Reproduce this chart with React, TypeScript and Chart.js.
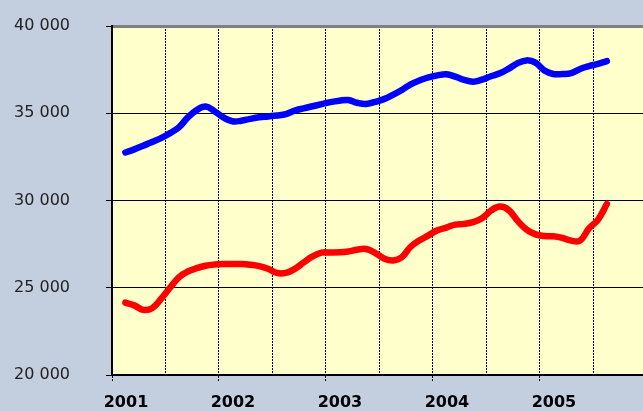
import React, { useEffect, useRef } from "react";
import { Chart, registerables } from "chart.js";

Chart.register(...registerables);

const MONTHS: string[] = [
  "2001-02", "2001-03", "2001-04", "2001-05", "2001-06", "2001-07", "2001-08", "2001-09", "2001-10", "2001-11", "2001-12",
  "2002-01", "2002-02", "2002-03", "2002-04", "2002-05", "2002-06", "2002-07", "2002-08", "2002-09", "2002-10", "2002-11", "2002-12",
  "2003-01", "2003-02", "2003-03", "2003-04", "2003-05", "2003-06", "2003-07", "2003-08", "2003-09", "2003-10", "2003-11", "2003-12",
  "2004-01", "2004-02", "2004-03", "2004-04", "2004-05", "2004-06", "2004-07", "2004-08", "2004-09", "2004-10", "2004-11", "2004-12",
  "2005-01", "2005-02", "2005-03", "2005-04", "2005-05", "2005-06", "2005-07", "2005-08",
];

const BLUE_VALUES: number[] = [
  32750, 32930, 33140, 33350, 33570, 33860, 34190, 34760, 35180, 35380, 35120,
  34760, 34540, 34570, 34680, 34770, 34820, 34870, 34950, 35150, 35280, 35400, 35520,
  35640, 35720, 35760, 35600, 35530, 35650, 35810, 36050, 36330, 36660, 36880, 37060,
  37170, 37230, 37100, 36910, 36810, 36930, 37120, 37290, 37560, 37870, 38030, 37900,
  37450, 37250, 37250, 37300, 37540, 37700, 37830, 37990,
];

const RED_VALUES: number[] = [
  24150, 23990, 23730, 23830, 24360, 25000, 25600, 25930, 26120, 26260, 26330,
  26360, 26360, 26360, 26320, 26240, 26090, 25850, 25850, 26080, 26450, 26800, 27010,
  27020, 27030, 27080, 27180, 27220, 27000, 26680, 26560, 26750, 27350, 27720, 28000,
  28290, 28450, 28620, 28660, 28760, 28980, 29420, 29650, 29450, 28830, 28330, 28060,
  27960, 27950, 27860, 27700, 27700, 28400, 28890, 29800,
];

const YEAR_TICKS: number[] = [2001, 2002, 2003, 2004, 2005];
const Y_MIN = 20000;
const Y_MAX = 40000;
const Y_STEP = 5000;
const X_MIN = 2001;
const X_MAX = 2005.963;

function monthToX(m: string): number {
  const [y, mo] = m.split("-").map(Number);
  return y + (mo - 1 + 0.5) / 12;
}

const bgPlugin = {
  id: "bgPlugin",
  beforeDraw(chart: any) {
    const { ctx, chartArea } = chart;
    ctx.save();
    ctx.fillStyle = "#C3CEDF";
    ctx.fillRect(0, 0, chart.width, chart.height);
    ctx.fillStyle = "#FFFFCC";
    ctx.fillRect(chartArea.left, chartArea.top, chartArea.right - chartArea.left, chartArea.bottom - chartArea.top);
    ctx.restore();
  },
};

export default function App() {
  const ref = useRef<HTMLCanvasElement | null>(null);
  useEffect(() => {
    if (!ref.current) return;
    const fmt = (v: number) => String(v).replace(/\B(?=(\d{3})+(?!\d))/g, " ");
    const chart = new Chart(ref.current, {
      type: "line",
      data: {
        datasets: [
          {
            label: "blue",
            data: MONTHS.map((m, i) => ({ x: monthToX(m), y: BLUE_VALUES[i] })),
            borderColor: "#0000FF",
            borderWidth: 6.5,
            pointRadius: 0,
            tension: 0.4,
            borderCapStyle: "round",
            borderJoinStyle: "round",
            fill: false,
          },
          {
            label: "red",
            data: MONTHS.map((m, i) => ({ x: monthToX(m), y: RED_VALUES[i] })),
            borderColor: "#FF0000",
            borderWidth: 6.5,
            pointRadius: 0,
            tension: 0.4,
            borderCapStyle: "round",
            borderJoinStyle: "round",
            fill: false,
          },
        ],
      },
      options: {
        animation: false,
        responsive: false,
        devicePixelRatio: 1,
        layout: { padding: { top: 26, right: 0, left: 0, bottom: 0 } },
        plugins: { legend: { display: false }, tooltip: { enabled: false } },
        scales: {
          x: {
            type: "linear",
            min: X_MIN,
            max: X_MAX,
            afterFit: (s: any) => {
              s.height = 36;
              s.paddingLeft = 0;
              s.paddingRight = 0;
            },
            ticks: {
              stepSize: 0.5,
              includeBounds: false,
              autoSkip: false,
              maxRotation: 0,
              labelOffset: 14,
              padding: 12,
              color: "#000",
              font: { family: "DejaVu Sans", size: 16, weight: "bold" },
              callback: (v: any) => (YEAR_TICKS.includes(Number(v)) ? String(v) : ""),
            },
            grid: {
              color: "#000",
              lineWidth: 1,
              tickLength: 6,
              tickColor: (c: any) => (c.tick && Number.isInteger(c.tick.value) ? "#000" : "rgba(0,0,0,0)"),
              tickBorderDash: [2, 1],
            },
            border: { display: true, color: "#000", width: 2, dash: [2, 1] , dashOffset: 0 },
          },
          y: {
            min: Y_MIN,
            max: Y_MAX,
            afterFit: (s: any) => {
              s.width = 112;
              s.paddingTop = 0;
              s.paddingBottom = 0;
            },
            ticks: {
              stepSize: Y_STEP,
              padding: 36,
              color: "#222",
              font: { family: "DejaVu Sans", size: 16 },
              callback: (v: any) => fmt(Number(v)),
            },
            grid: {
              color: (c: any) => (c.tick && c.tick.value === Y_MAX ? "#808080" : "#000"),
              lineWidth: (c: any) => (c.tick && c.tick.value === Y_MAX ? 3 : 1),
              tickLength: 6,
              tickColor: "#000",
              tickWidth: 1,
            },
            border: { display: true, color: "#000", width: 2 },
          },
        },
      },
      plugins: [
        bgPlugin,
        {
          id: "solidBottom",
          afterDatasetsDraw(chart: any) {
            const { ctx, chartArea } = chart;
            ctx.save();
            ctx.strokeStyle = "#000";
            ctx.lineWidth = 2;
            ctx.setLineDash([]);
            ctx.beginPath();
            ctx.moveTo(chartArea.left - 1, chartArea.bottom);
            ctx.lineTo(chartArea.right, chartArea.bottom);
            ctx.stroke();
            ctx.restore();
          },
        },
      ],
    } as any);
    return () => chart.destroy();
  }, []);
  return (
    <div style={{ position: "absolute", left: 0, top: 0, width: 643, height: 411 }}>
      <canvas ref={ref} width={643} height={411} />
    </div>
  );
}
